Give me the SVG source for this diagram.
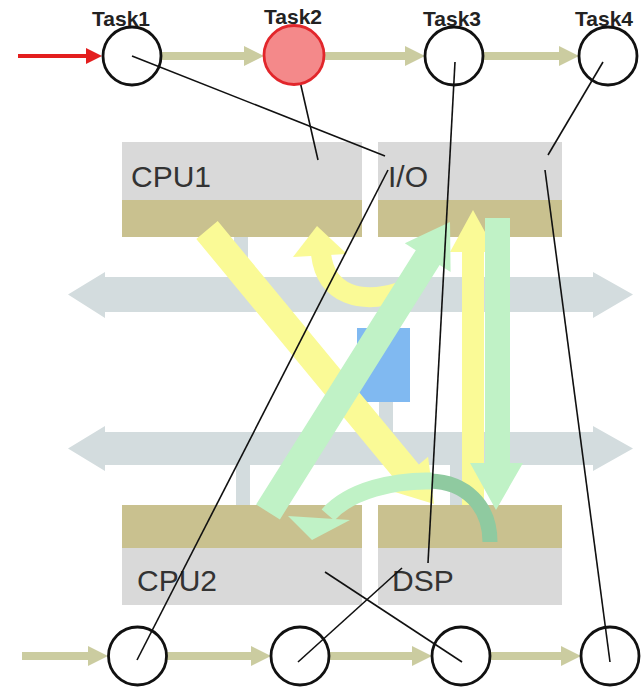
<svg xmlns="http://www.w3.org/2000/svg" width="642" height="688" viewBox="0 0 642 688">
<defs>
<style>
.gray{fill:#d9d9d9}
.olive{fill:#c9c18f}
.bus{fill:#d3dcde}
.lbl{font-family:"Liberation Sans",Arial,sans-serif;font-size:30px;fill:#333}
.task{font-family:"Liberation Sans",Arial,sans-serif;font-size:21px;font-weight:bold;fill:#222}
.link{stroke:#111;stroke-width:1.6;fill:none}
.node{fill:none;stroke:#111;stroke-width:2.8}
.flow{stroke:#cbcca0;stroke-width:8;fill:none;marker-end:url(#oh)}
.yel{fill:#fafa96}
.grn{fill:#c0f2c6}
</style>
<marker id="oh" viewBox="0 0 20 20" refX="6" refY="10" markerWidth="20" markerHeight="20" markerUnits="userSpaceOnUse" orient="auto">
<path d="M0,0 L20,10 L0,20 z" fill="#cbcca0"/>
</marker>
<marker id="rh" viewBox="0 0 16 16" refX="4" refY="8" markerWidth="16" markerHeight="16" markerUnits="userSpaceOnUse" orient="auto">
<path d="M0,0 L16,8 L0,16 z" fill="#e31e1e"/>
</marker>
</defs>
<rect width="642" height="688" fill="#ffffff"/>

<g id="buses">
<polygon class="bus" points="68,294.5 105,272 105,277 593,277 593,272 633,294.5 593,318 593,312 105,312 105,318"/>
<polygon class="bus" points="68,448.5 105,426 105,432 593,432 593,426 633,448.5 593,471 593,465 105,465 105,471"/>
<rect class="bus" x="234" y="236" width="14" height="42"/>
<rect class="bus" x="236" y="464" width="14" height="42"/>
<rect class="bus" x="379" y="400" width="14" height="33"/>
<rect class="bus" x="450" y="464" width="12" height="42"/>
</g>

<g id="cpu1">
<rect class="gray" x="122" y="142" width="240" height="58"/>
<rect class="olive" x="122" y="200" width="240" height="37"/>
<text class="lbl" x="131" y="187">CPU1</text>
</g>
<g id="io">
<rect class="gray" x="378" y="142" width="184" height="58"/>
<rect class="olive" x="378" y="200" width="184" height="37"/>
<text class="lbl" x="388" y="187">I/O</text>
</g>
<g id="cpu2">
<rect class="olive" x="122" y="505" width="240" height="43"/>
<rect class="gray" x="122" y="548" width="240" height="57"/>
<text class="lbl" x="137" y="591">CPU2</text>
</g>
<g id="dsp">
<rect class="olive" x="378" y="505" width="184" height="43"/>
<rect class="gray" x="378" y="548" width="184" height="57"/>
<text class="lbl" x="392" y="591">DSP</text>
</g>
<g id="blue">
<rect x="357" y="328" width="53" height="74" fill="#80b9f1"/>
</g>

<g id="dataflows">
<polygon class="yel" points="217.7,221 418.9,464.4 428.1,456.7 434,504 388.3,490.1 397.5,482.4 196.3,239"/>
<path d="M 400 292 C 362 304, 326 296, 321 254" stroke="#fafa96" stroke-width="20" fill="none"/>
<polygon class="yel" points="293,257 317,226 347,254"/>
<polygon class="yel" points="462,505 462,252 450,252 473,210 496,252 484,252 484,505"/>
<polygon class="grn" points="256.1,504.6 415.8,250.2 404.8,243.2 450,222 450.6,272 439.6,265 279.9,519.4"/>
<polygon class="grn" points="485,218 510,218 510,463 523,463 496,510 470,463 485,463"/>
<path d="M 490 542 C 490 505, 465 482, 430 481" stroke="#8fcaa0" stroke-width="15" fill="none"/>
<path d="M 432 481 C 395 480, 350 490, 328 515" stroke="#c0f2c6" stroke-width="17" fill="none"/>
<polygon class="grn" points="288,516 350,520 312,540"/>
</g>

<g id="connectors">
<line x1="18" y1="56" x2="90" y2="56" stroke="#e31e1e" stroke-width="4" marker-end="url(#rh)"/>
<line class="flow" x1="162" y1="56" x2="250" y2="56"/>
<line class="flow" x1="325" y1="56" x2="411" y2="56"/>
<line class="flow" x1="484" y1="56" x2="565" y2="56"/>
<line class="flow" x1="22" y1="656" x2="94" y2="656"/>
<line class="flow" x1="167" y1="656" x2="257" y2="656"/>
<line class="flow" x1="330" y1="656" x2="418" y2="656"/>
<line class="flow" x1="490" y1="656" x2="567" y2="656"/>
<line class="link" x1="132" y1="56" x2="385" y2="156"/>
<line class="link" x1="388" y1="170" x2="137" y2="660"/>
<line class="link" x1="294" y1="55" x2="318" y2="160"/>
<line class="link" x1="455" y1="62" x2="428" y2="563"/>
<line class="link" x1="603" y1="62" x2="548" y2="155"/>
<line class="link" x1="545" y1="170" x2="610" y2="662"/>
<line class="link" x1="325" y1="572" x2="462" y2="662"/>
<line class="link" x1="402" y1="568" x2="298" y2="662"/>
</g>

<g id="task1"><ellipse class="node" cx="132" cy="56" rx="29" ry="29"/><text class="task" x="121" y="26" text-anchor="middle">Task1</text></g>
<g id="task2"><ellipse cx="294" cy="55" rx="30" ry="29.5" fill="#f4898a" stroke="#e2262b" stroke-width="2.8"/><text class="task" x="293" y="24" text-anchor="middle">Task2</text></g>
<g id="task3"><ellipse class="node" cx="454" cy="56" rx="29" ry="29"/><text class="task" x="452" y="26" text-anchor="middle">Task3</text></g>
<g id="task4"><ellipse class="node" cx="608" cy="56" rx="29" ry="29"/><text class="task" x="604" y="26" text-anchor="middle">Task4</text></g>
<g id="b1"><ellipse class="node" cx="137.5" cy="656" rx="29" ry="29"/></g>
<g id="b2"><ellipse class="node" cx="300" cy="656" rx="29" ry="29"/></g>
<g id="b3"><ellipse class="node" cx="461" cy="656" rx="29" ry="29"/></g>
<g id="b4"><ellipse class="node" cx="610" cy="656" rx="29" ry="29"/></g>
</svg>
